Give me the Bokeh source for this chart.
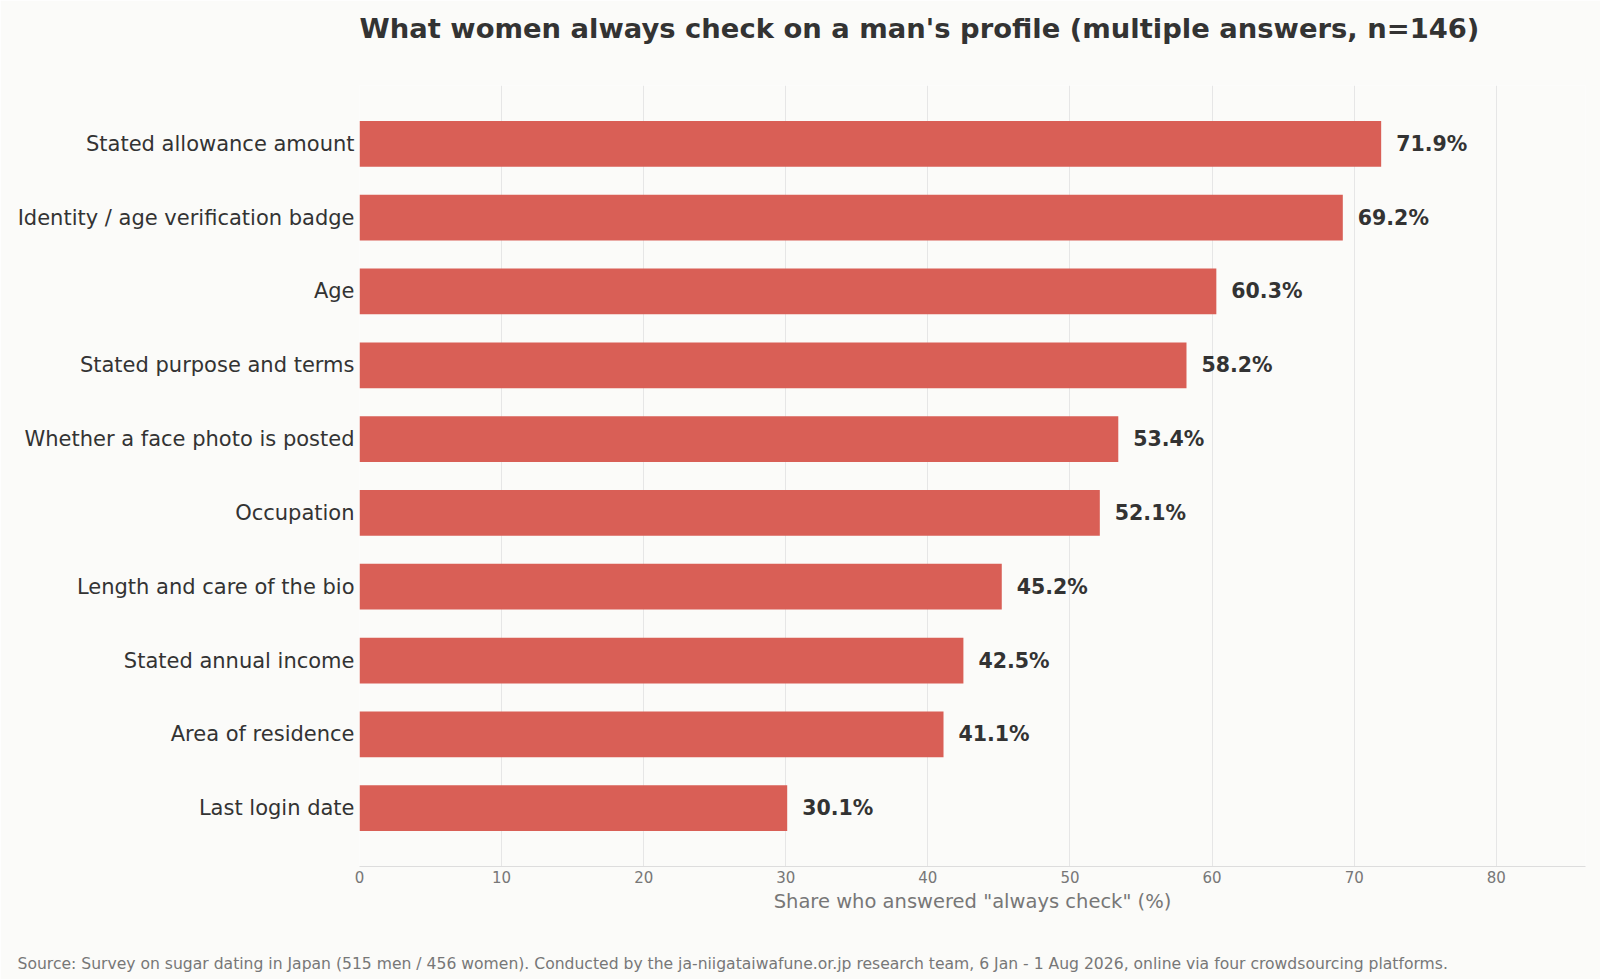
from bokeh.plotting import figure
from bokeh.models import ColumnDataSource, FactorRange, Range1d, Title, FixedTicker
from bokeh.core.properties import value
from bokeh.embed import file_html
from bokeh.resources import INLINE

categories = [
    "Stated allowance amount",
    "Identity / age verification badge",
    "Age",
    "Stated purpose and terms",
    "Whether a face photo is posted",
    "Occupation",
    "Length and care of the bio",
    "Stated annual income",
    "Area of residence",
    "Last login date",
]
shares = [71.9, 69.2, 60.3, 58.2, 53.4, 52.1, 45.2, 42.5, 41.1, 30.1]
x_ticks = [0, 10, 20, 30, 40, 50, 60, 70, 80]

FONT = "DejaVu Sans"
BG = "#fbfbf9"
BAR = "#d95f56"

labels = [f"{v:.1f}%" for v in shares]
src = ColumnDataSource(dict(cat=categories, val=shares, lab=labels))

p = figure(
    width=1600, height=979,
    y_range=FactorRange(factors=list(reversed(categories)), range_padding=0.29, range_padding_units="absolute"),
    x_range=Range1d(0, max(shares) * 1.2),
    output_backend="svg", toolbar_location=None, title_location=None,
    background_fill_color=BG, border_fill_color=BG,
    min_border_left=359, min_border_right=15, min_border_top=85, min_border_bottom=113,
    outline_line_color=None,
)

top_spacer = Title(text=" ", text_font=FONT, text_font_size="1px", standoff=39)
p.add_layout(top_spacer, "above")
main_title = Title(
    text="What women always check on a man's profile (multiple answers, n=146)",
    text_font=FONT, text_font_size="27.4px", text_font_style="bold",
    text_color="#333333", align="left", standoff=0,
)
p.add_layout(main_title, "above")

p.hbar(y="cat", right="val", left=0, height=0.62, source=src, color=BAR, line_color=None)
p.text(x="val", y="cat", text="lab", source=src, x_offset=15, text_baseline="middle",
       text_align="left", text_font=value(FONT), text_font_style="bold",
       text_font_size="20.5px", text_color="#333333")

p.xaxis.ticker = FixedTicker(ticks=x_ticks)
p.xaxis.axis_label = 'Share who answered "always check" (%)'
p.xaxis.axis_label_text_font = FONT
p.xaxis.axis_label_text_font_style = "normal"
p.xaxis.axis_label_text_font_size = "19.5px"
p.xaxis.axis_label_text_color = "#777777"
p.xaxis.axis_label_standoff = 4
p.xaxis.major_label_text_font = FONT
p.xaxis.major_label_text_font_size = "15px"
p.xaxis.major_label_text_color = "#777777"
p.xaxis.axis_line_color = "#dddddd"
p.xaxis.major_tick_line_color = None
p.xaxis.minor_tick_line_color = None
p.xaxis.major_tick_out = 0
p.xaxis.major_tick_in = 0
p.xaxis.major_label_standoff = 4

p.yaxis.axis_line_color = None
p.yaxis.major_tick_line_color = None
p.yaxis.minor_tick_line_color = None
p.yaxis.major_tick_out = 0
p.yaxis.major_tick_in = 0
p.yaxis.major_label_text_font = FONT
p.yaxis.major_label_text_font_size = "21px"
p.yaxis.major_label_text_color = "#333333"
p.yaxis.major_label_standoff = 5

p.xgrid.grid_line_color = "#e6e6e6"
p.ygrid.grid_line_color = None

spacer = Title(text=" ", text_font=FONT, text_font_size="1px", standoff=32)
p.add_layout(spacer, "below")

src_note = Title(
    text="Source: Survey on sugar dating in Japan (515 men / 456 women). Conducted by the ja-niigataiwafune.or.jp research team, 6 Jan - 1 Aug 2026, online via four crowdsourcing platforms.",
    align="left", text_font=FONT, text_font_size="15.6px", text_font_style="normal",
    text_color="#777777", offset=-342, standoff=4,
)
p.add_layout(src_note, "below")

open("out.html", "w").write(file_html(p, INLINE))
